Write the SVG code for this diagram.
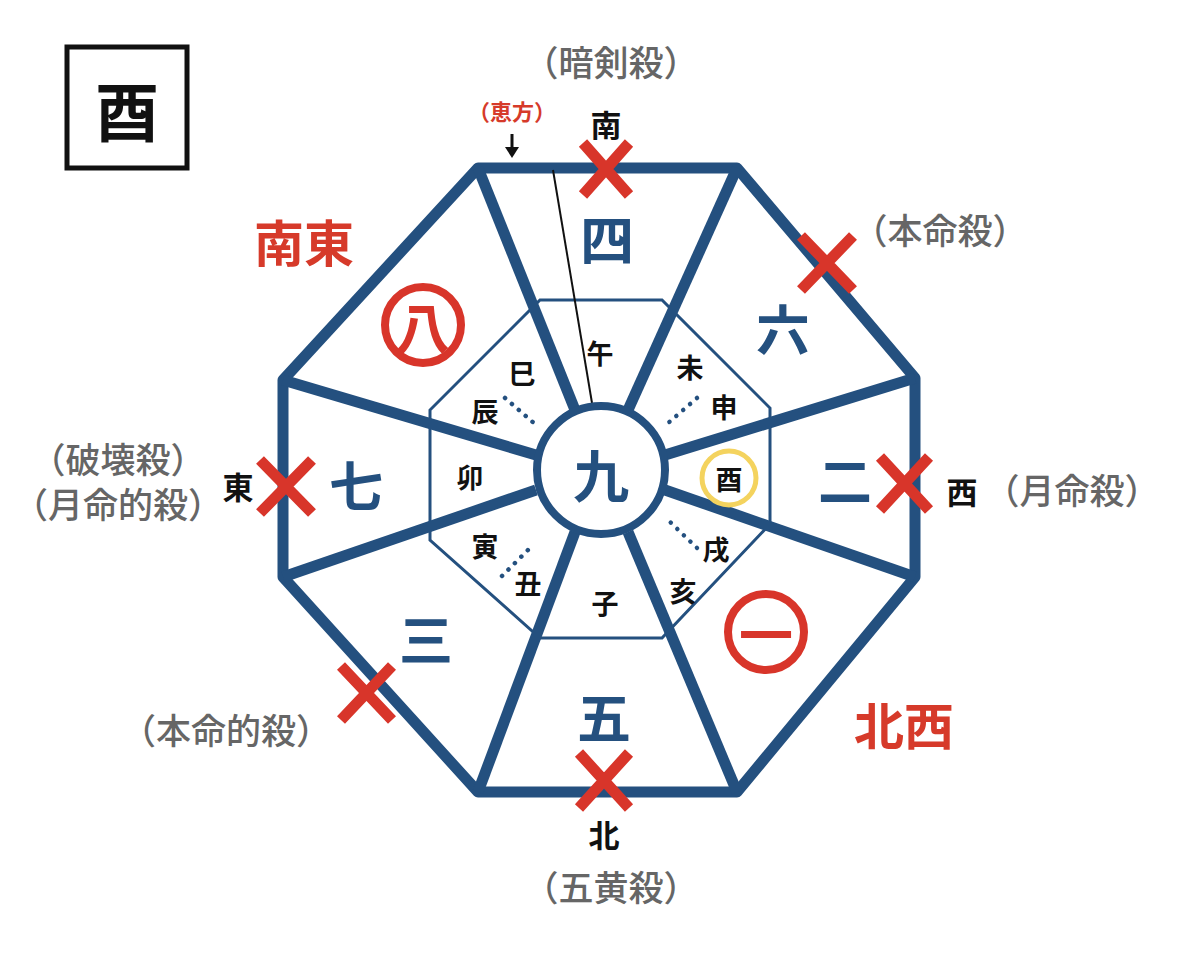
<svg xmlns="http://www.w3.org/2000/svg" width="1200" height="953" viewBox="0 0 1200 953">
<style>
text{font-family:"Noto Sans CJK JP","Noto Sans CJK SC",sans-serif;text-anchor:middle;dominant-baseline:central}
.big{font-size:54px;font-weight:bold;fill:#24507f}
.sm{font-size:27px;font-weight:bold;fill:#111}
.g{font-size:35px;font-weight:500;fill:#666}
.r{font-size:50px;font-weight:bold;fill:#d63a2a}
.dir{font-size:31px;font-weight:bold;fill:#111}
.x{stroke:#d8352a;stroke-width:11;stroke-linecap:butt}
.dot{stroke:#24507f;stroke-width:4.5;stroke-dasharray:0.1 9;stroke-linecap:round}
</style>
<rect width="1200" height="953" fill="#fff"/>
<g id="titlebox"><rect x="67" y="47" width="120" height="121" fill="none" stroke="#111" stroke-width="5"/><text x="127" y="108" style="font-size:64px;font-weight:bold;fill:#111">酉</text></g>
<g id="connectors" fill="none">
<polygon points="478,168 737,168 915,378 915,577 737,792 478,792 283,577 283,380" stroke="#24507f" stroke-width="11" stroke-linejoin="round"/>
<polygon points="540,300 662,300 770,408 770,524 662,638 540,638 430,540 430,410" stroke="#24507f" stroke-width="3"/>
<g stroke="#24507f" stroke-width="11">
<line x1="478" y1="168" x2="575" y2="410"/><line x1="737" y1="168" x2="628" y2="410"/>
<line x1="915" y1="378" x2="665" y2="455"/><line x1="915" y1="577" x2="665" y2="490"/>
<line x1="737" y1="792" x2="628" y2="532"/><line x1="478" y1="792" x2="575" y2="532"/>
<line x1="283" y1="577" x2="536" y2="490"/><line x1="283" y1="380" x2="536" y2="455"/>
</g>
<line x1="553" y1="170" x2="592" y2="403" stroke="#111" stroke-width="2"/>
<line class="dot" x1="505" y1="398" x2="535" y2="424"/><line class="dot" x1="697" y1="398" x2="667" y2="424"/>
<line class="dot" x1="697" y1="548" x2="668" y2="520"/><line class="dot" x1="502" y1="576" x2="533" y2="545"/>
<path d="M512 134 V150" stroke="#111" stroke-width="3"/><path d="M505 147 L512 158 L519 147 Z" fill="#111"/>
</g>
<g id="center"><circle cx="601" cy="470" r="64" fill="#fff" stroke="#24507f" stroke-width="8"/><text x="601" y="472" class="big" style="font-size:56px">九</text></g>
<g id="n4"><text x="607" y="237" class="big">四</text></g>
<g id="n6"><text x="783" y="327" class="big">六</text></g>
<g id="n2"><text x="845" y="478" class="big">二</text></g>
<g id="n1"><circle cx="766" cy="632" r="38" fill="none" stroke="#d8352a" stroke-width="8"/><text x="766" y="632" class="big" style="fill:#d8352a">一</text></g>
<g id="n5"><text x="604" y="715" class="big">五</text></g>
<g id="n3"><text x="426" y="637" class="big">三</text></g>
<g id="n7"><text x="356" y="483" class="big">七</text></g>
<g id="n8"><circle cx="423" cy="325" r="38" fill="none" stroke="#d8352a" stroke-width="8"/><text x="423" y="325" class="big" style="fill:#d8352a">八</text></g>
<g id="zodiac">
<text x="600" y="352" class="sm">午</text><text x="690" y="366" class="sm">未</text><text x="724" y="406" class="sm">申</text>
<circle cx="729" cy="478" r="27" fill="none" stroke="#f4d35e" stroke-width="5"/><text x="729" y="478" class="sm">酉</text>
<text x="716" y="548" class="sm">戌</text><text x="683" y="590" class="sm">亥</text><text x="605" y="602" class="sm">子</text>
<text x="528" y="582" class="sm">丑</text><text x="485" y="545" class="sm">寅</text><text x="470" y="476" class="sm">卯</text>
<text x="485" y="410" class="sm">辰</text><text x="522" y="372" class="sm">巳</text>
</g>
<g id="marks">
<path class="x" d="M583 143 L629 195 M629 143 L583 195"/>
<path class="x" d="M801 236 L853 290 M853 236 L801 290"/>
<path class="x" d="M880 457 L929 510 M929 457 L880 510"/>
<path class="x" d="M579 753 L629 808 M629 753 L579 808"/>
<path class="x" d="M341 666 L392 720 M392 666 L341 720"/>
<path class="x" d="M260 460 L312 513 M312 460 L260 513"/>
</g>
<g id="labels">
<text x="611" y="60" class="g">（暗剣殺）</text>
<text x="512" y="110" style="font-size:22px;font-weight:bold;fill:#d63a2a">（恵方）</text>
<text x="606" y="123" class="dir">南</text>
<text x="940" y="228" class="g">（本命殺）</text>
<text x="304" y="240" class="r">南東</text>
<text x="118" y="457" class="g">（破壊殺）</text>
<text x="118" y="502" class="g">（月命的殺）</text>
<text x="238" y="485" class="dir">東</text>
<text x="962" y="490" class="dir">西</text>
<text x="1072" y="488" class="g">（月命殺）</text>
<text x="904" y="723" class="r">北西</text>
<text x="226" y="728" class="g">（本命的殺）</text>
<text x="604" y="833" class="dir">北</text>
<text x="611" y="885" class="g">（五黄殺）</text>
</g>
</svg>
